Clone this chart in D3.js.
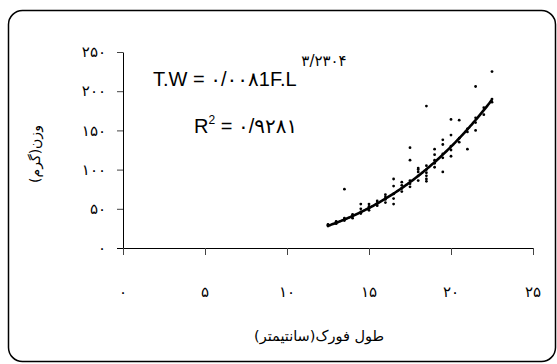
<!DOCTYPE html>
<html>
<head>
<meta charset="UTF-8" />
<title>Length-weight</title>
<script src="https://d3js.org/d3.v7.min.js"></script>
<style>
  html, body { margin: 0; padding: 0; background: #fff; overflow: hidden; }
  svg { display: block; }
</style>
</head>
<body>
<div id="chart"></div>
<script>
// fork length (cm) and total weight (g)
const forkLength = [
  12.5, 12.5, 12.5, 13, 13, 13, 13.5, 13.5, 13.5, 13.5,
  14, 14, 14, 14.5, 14.5, 14.5, 14.5, 15, 15, 15, 15,
  15.5, 15.5, 15.5, 16, 16, 16, 16, 16.5, 16.5, 16.5, 16.5, 16.5,
  17, 17, 17, 17, 17.5, 17.5, 17.5, 17.5, 17.5,
  18, 18, 18, 18, 18, 18.5, 18.5, 18.5, 18.5, 18.5, 18.5, 18.5,
  19, 19, 19, 19, 19, 19.5, 19.5, 19.5, 19.5, 19.5,
  20, 20, 20, 20, 20, 20.5, 20.5, 20.5, 21, 21, 21,
  21.5, 21.5, 21.5, 21.5, 22, 22, 22.5, 22.5, 22.5
];
const totalWeight = [
  28, 29, 30, 31, 33, 34, 35, 37, 38, 75,
  38, 41, 43, 44, 46, 50, 56, 48, 51, 53, 56,
  54, 57, 60, 58, 62, 65, 68, 56, 63, 69, 79, 88,
  72, 76, 80, 84, 78, 82, 86, 112, 128,
  86, 92, 97, 100, 102, 85, 88, 92, 96, 100, 105, 181,
  103, 108, 112, 119, 126, 97, 115, 120, 132, 138,
  117, 125, 130, 144, 164, 135, 140, 163, 126, 148, 152,
  150, 160, 166, 206, 170, 179, 186, 190, 225
];
// power trendline shown on the chart: T.W = a * F.L ^ b
const fitA = 0.0081;
const fitB = 3.2304;
const fitRange = [12.5, 22.55];

const xTicks = [0, 5, 10, 15, 20, 25];
const yTicks = [0, 50, 100, 150, 200, 250];

const faDigits = n => String(n).replace(/\d/g, d => "۰۱۲۳۴۵۶۷۸۹"[d]);

const W = 557, H = 364;
const svg = d3.select("#chart").append("svg")
  .attr("width", W).attr("height", H);

const x = d3.scaleLinear().domain([0, 25]).range([123, 533]);
const y = d3.scaleLinear().domain([0, 250]).range([248, 52]);

// y axis
const yAxis = svg.append("g")
  .attr("transform", `translate(${x(0)},0)`)
  .call(d3.axisLeft(y).tickValues(yTicks).tickSize(6).tickSizeOuter(0).tickFormat(""));
yAxis.select(".domain").attr("stroke", "#000");
yAxis.selectAll(".tick line").attr("stroke", "#444");

// x axis
const xAxis = svg.append("g")
  .attr("transform", `translate(0,${y(0)})`)
  .call(d3.axisBottom(x).tickValues(xTicks).tickSize(7).tickSizeOuter(0).tickFormat(""));
xAxis.select(".domain").attr("stroke", "#000").attr("d", `M${x(0) - 6},0.5H${x(25)}`);
xAxis.selectAll(".tick line").attr("stroke", "#444");

// tick labels (placed like the original: well away from the axes)
svg.append("g").selectAll("text").data(yTicks).join("text")
  .attr("font-family", "DejaVu Sans, sans-serif")
  .attr("font-size", 15)
  .attr("x", 106).attr("y", d => y(d))
  .attr("dy", "0.35em")
  .attr("text-anchor", "end")
  .text(d => faDigits(d));

svg.append("g").selectAll("text").data(xTicks).join("text")
  .attr("font-family", "DejaVu Sans, sans-serif")
  .attr("font-size", 15)
  .attr("x", d => x(d)).attr("y", 292)
  .attr("dy", "0.35em")
  .attr("text-anchor", "middle")
  .text(d => faDigits(d));

// axis titles
svg.append("text")
  .attr("font-family", "DejaVu Sans, sans-serif")
  .attr("font-size", 14)
  .attr("direction", "rtl")
  .attr("transform", "translate(40,154) rotate(-90)")
  .attr("text-anchor", "middle")
  .text("وزن(گرم)");

svg.append("text")
  .attr("font-family", "DejaVu Sans, sans-serif")
  .attr("font-size", 14.5)
  .attr("direction", "rtl")
  .attr("x", 319).attr("y", 341)
  .attr("text-anchor", "middle")
  .text("طول فورک(سانتیمتر)");

// points
svg.append("g").selectAll("circle")
  .data(forkLength.map((f, i) => [f, totalWeight[i]]))
  .join("circle")
  .attr("cx", d => x(d[0]))
  .attr("cy", d => y(d[1]))
  .attr("r", 1.4)
  .attr("fill", "#000");

// trendline
const fitX = d3.range(fitRange[0], fitRange[1], 0.05);
svg.append("path")
  .datum(fitX)
  .attr("fill", "none")
  .attr("stroke", "#000")
  .attr("stroke-width", 2.6)
  .attr("d", d3.line().x(d => x(d)).y(d => y(fitA * Math.pow(d, fitB))));

// equation and R²
const eqFont = "Liberation Sans, Arial, DejaVu Sans, sans-serif";
const eq = svg.append("text").attr("font-family", eqFont)
  .attr("x", 153).attr("y", 86).attr("font-size", 20);
eq.append("tspan").text("T.W = ۰/۰۰۸1F.L");
eq.append("tspan").attr("dy", -20).attr("font-size", 15)
  .attr("font-family", "DejaVu Sans, sans-serif").text(" ۳/۲۳۰۴");

const r2 = svg.append("text").attr("font-family", eqFont)
  .attr("x", 194).attr("y", 133).attr("font-size", 20);
r2.append("tspan").text("R");
r2.append("tspan").attr("dy", -9).attr("font-size", 12).text("2");
r2.append("tspan").attr("dy", 9).text(" = ۰/۹۲۸۱");

// rounded frame, drawn last so nothing covers it
svg.append("g").append("rect")
  .attr("x", 8.5).attr("y", 10.5)
  .attr("width", 547).attr("height", 351)
  .attr("rx", 14).attr("ry", 14)
  .attr("fill", "none").attr("stroke", "black").attr("stroke-width", 1.5);
</script>
</body>
</html>
